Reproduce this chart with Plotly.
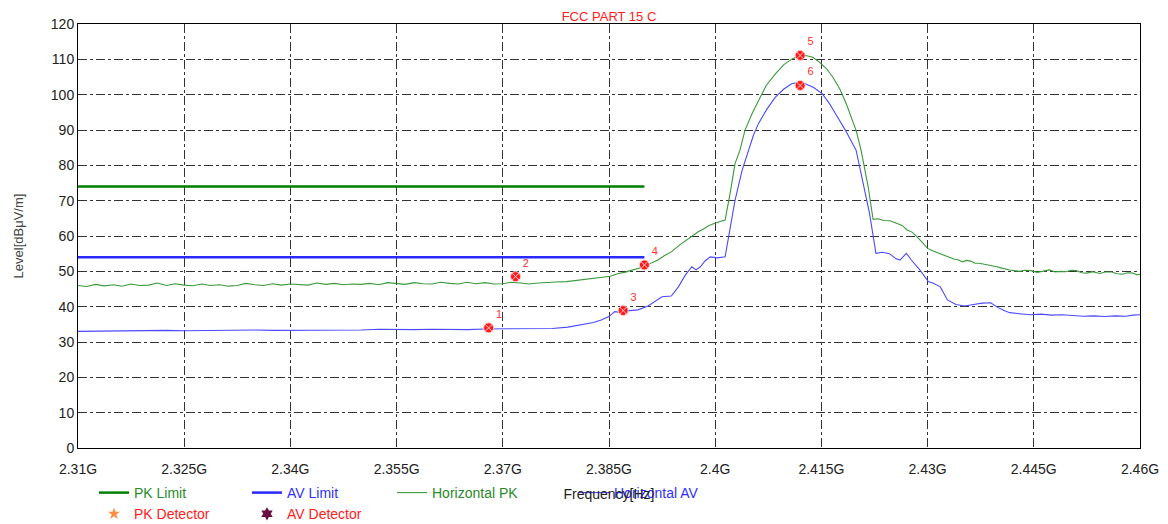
import plotly.graph_objects as go

# ---------------- data ----------------
title_text = "FCC PART 15 C"

x_tick_vals = [2.31, 2.325, 2.34, 2.355, 2.37, 2.385, 2.4, 2.415, 2.43, 2.445, 2.46]
x_tick_text = ["2.31G", "2.325G", "2.34G", "2.355G", "2.37G", "2.385G", "2.4G",
               "2.415G", "2.43G", "2.445G", "2.46G"]
y_tick_vals = [0, 10, 20, 30, 40, 50, 60, 70, 80, 90, 100, 110, 120]

# Limits (restricted band up to 2.39 GHz)
pk_limit_freq = [2.31, 2.39]
pk_limit_level = [74, 74]
av_limit_freq = [2.31, 2.39]
av_limit_level = [54, 54]

# Horizontal PK trace (GHz, dBuV/m)
pk_freq = [2.3100, 2.3112, 2.3125, 2.3137, 2.3150, 2.3162, 2.3175, 2.3187, 2.3200, 2.3212,
           2.3225, 2.3237, 2.3250, 2.3262, 2.3275, 2.3287, 2.3300, 2.3312, 2.3325, 2.3337,
           2.3350, 2.3362, 2.3375, 2.3387, 2.3400, 2.3412, 2.3425, 2.3437, 2.3450, 2.3462,
           2.3475, 2.3487, 2.3500, 2.3512, 2.3525, 2.3537, 2.3550, 2.3562, 2.3575, 2.3587,
           2.3600, 2.3612, 2.3625, 2.3637, 2.3650, 2.3662, 2.3675, 2.3687, 2.3700, 2.3712,
           2.3725, 2.3737, 2.3750, 2.3762, 2.3775, 2.3790, 2.3805, 2.3816, 2.3828, 2.3840,
           2.3852, 2.3863, 2.3872, 2.3880, 2.3891, 2.3900, 2.3905, 2.3912, 2.3919, 2.3928,
           2.3938, 2.3950, 2.3958, 2.3965, 2.3976, 2.3983, 2.3990, 2.4000, 2.4008, 2.4014,
           2.4021, 2.4028, 2.4035, 2.4042, 2.4052, 2.4061, 2.4072, 2.4085, 2.4097, 2.4109,
           2.4120, 2.4128, 2.4138, 2.4147, 2.4157, 2.4166, 2.4176, 2.4185, 2.4192, 2.4199,
           2.4206, 2.4211, 2.4216, 2.4223, 2.4230, 2.4238, 2.4247, 2.4256, 2.4264, 2.4271,
           2.4278, 2.4285, 2.4292, 2.4300, 2.4306, 2.4312, 2.4318, 2.4324, 2.4330, 2.4337,
           2.4343, 2.4349, 2.4355, 2.4361, 2.4367, 2.4373, 2.4380, 2.4386, 2.4392, 2.4398,
           2.4405, 2.4410, 2.4416, 2.4422, 2.4430, 2.4437, 2.4446, 2.4455, 2.4463, 2.4472,
           2.4480, 2.4488, 2.4495, 2.4503, 2.4510, 2.4518, 2.4525, 2.4533, 2.4543, 2.4551,
           2.4560, 2.4568, 2.4575, 2.4583, 2.4590, 2.4596, 2.4600]
pk_level = [46.0, 45.7, 46.3, 45.9, 46.2, 45.8, 46.4, 46.0, 46.1, 46.7,
            46.0, 46.5, 46.1, 45.9, 46.4, 46.0, 46.2, 45.8, 46.0, 46.6,
            46.2, 46.0, 46.5, 46.1, 46.4, 46.3, 46.1, 46.7, 46.3, 46.6,
            46.2, 46.4, 46.3, 46.6, 46.2, 46.8, 46.5, 46.3, 46.8, 46.5,
            46.4, 46.9, 46.6, 46.4, 46.9, 46.5, 46.8, 46.4, 46.5, 46.9,
            46.7, 46.4, 46.7, 46.9, 47.0, 47.1, 47.5, 47.7, 47.9, 48.4,
            48.6, 49.4, 49.7, 50.2, 50.8, 51.3, 51.9, 52.6, 53.2, 54.4,
            55.5, 57.5, 58.6, 59.6, 61.2, 61.9, 62.8, 63.7, 64.2, 64.5,
            72.0, 80.5, 84.3, 89.9, 94.6, 98.4, 102.6, 105.9, 108.5, 110.2,
            110.9, 111.1, 110.6, 109.2, 107.4, 105.0, 101.6, 97.5, 93.7, 89.9,
            84.3, 79.6, 74.0, 64.7, 64.9, 64.4, 64.3, 63.6, 63.0, 61.7,
            61.1, 59.8, 58.3, 56.5, 55.9, 55.4, 55.0, 54.6, 53.9, 53.5,
            53.3, 52.7, 53.1, 52.9, 52.3, 52.3, 52.0, 51.8, 51.7, 51.3,
            50.9, 50.6, 50.4, 50.2, 50.0, 50.3, 50.2, 49.7, 50.1, 50.4,
            49.8, 50.0, 49.9, 50.3, 50.2, 49.6, 49.5, 49.9, 49.4, 49.8,
            49.8, 49.3, 49.2, 49.6, 49.5, 49.0, 49.2]

# Horizontal AV trace (GHz, dBuV/m)
av_freq = [2.3100, 2.3125, 2.3150, 2.3175, 2.3200, 2.3225, 2.3250, 2.3275, 2.3300, 2.3325,
           2.3350, 2.3375, 2.3400, 2.3425, 2.3450, 2.3475, 2.3500, 2.3525, 2.3550, 2.3575,
           2.3600, 2.3625, 2.3650, 2.3675, 2.3700, 2.3725, 2.3750, 2.3770, 2.3792, 2.3805,
           2.3815, 2.3828, 2.3839, 2.3850, 2.3858, 2.3866, 2.3875, 2.3891, 2.3905, 2.3914,
           2.3925, 2.3938, 2.3948, 2.3958, 2.3967, 2.3973, 2.3979, 2.3986, 2.3993, 2.4003,
           2.4014, 2.4019, 2.4028, 2.4038, 2.4047, 2.4054, 2.4061, 2.4073, 2.4085, 2.4097,
           2.4108, 2.4118, 2.4127, 2.4139, 2.4151, 2.4161, 2.4170, 2.4184, 2.4199, 2.4208,
           2.4218, 2.4227, 2.4236, 2.4246, 2.4255, 2.4261, 2.4270, 2.4277, 2.4289, 2.4301,
           2.4308, 2.4318, 2.4328, 2.4340, 2.4352, 2.4365, 2.4377, 2.4389, 2.4399, 2.4408,
           2.4416, 2.4430, 2.4445, 2.4460, 2.4475, 2.4490, 2.4505, 2.4520, 2.4535, 2.4550,
           2.4565, 2.4580, 2.4590, 2.4600]
av_level = [33.0, 33.1, 33.2, 33.1, 33.2, 33.3, 33.2, 33.3, 33.2, 33.4,
            33.4, 33.3, 33.3, 33.5, 33.5, 33.4, 33.4, 33.6, 33.5, 33.5,
            33.6, 33.5, 33.5, 33.7, 33.7, 33.6, 33.7, 33.8, 34.2, 34.6,
            35.0, 35.5, 36.2, 37.2, 38.6, 38.4, 38.8, 39.1, 40.2, 41.4,
            42.8, 43.0, 45.6, 49.0, 51.3, 50.4, 51.3, 53.0, 54.1, 53.8,
            54.1, 59.8, 70.1, 78.6, 84.3, 88.5, 91.8, 95.9, 99.3, 101.6,
            103.1, 103.5, 103.1, 102.0, 100.3, 97.6, 94.6, 89.9, 84.3, 75.8,
            66.4, 55.1, 55.4, 55.0, 53.6, 53.2, 55.1, 53.2, 50.4, 47.1,
            46.6, 45.6, 41.9, 40.6, 40.2, 40.6, 41.0, 41.1, 39.8, 38.9,
            38.3, 38.0, 37.7, 37.9, 37.6, 37.7, 37.5, 37.3, 37.4, 37.2,
            37.4, 37.3, 37.6, 37.7]

# Markers (detected points)
mark_freq = [2.3680, 2.3718, 2.3870, 2.3900, 2.4120, 2.4120]
mark_level = [34.0, 48.5, 38.9, 51.8, 111.1, 102.6]
mark_label = ["1", "2", "3", "4", "5", "6"]

# ---------------- styling ----------------
FONT = "Liberation Sans, Arial, sans-serif"
GREEN_LIM = "#008000"
BLUE_LIM = "#2828ff"
GREEN_TR = "#3a9a3a"
BLUE_TR = "#4a4aff"

# The page body adds an 8 px offset; figure coordinates below account for it.
OFF = 8
W, H = 1168 - OFF, 524 - OFF
PLOT_L, PLOT_R, PLOT_T, PLOT_B = 78 - OFF, 1140 - OFF, 24 - OFF, 448 - OFF


def colored(text, color):
    return f"<span style='color:{color}'>{text}</span>"


fig = go.Figure()

fig.add_trace(go.Scatter(x=pk_limit_freq, y=pk_limit_level, mode="lines",
                         line=dict(color=GREEN_LIM, width=2.5),
                         name=colored("PK Limit", "#2a8a2a"), legend="legend"))
fig.add_trace(go.Scatter(x=[None], y=[None], mode="markers",
                         marker=dict(symbol="star", color="#ff8c40", size=9),
                         name=colored("PK Detector", "#ff2020"), legend="legend"))
fig.add_trace(go.Scatter(x=av_limit_freq, y=av_limit_level, mode="lines",
                         line=dict(color=BLUE_LIM, width=2.5),
                         name=colored("AV Limit", "#3030ff"), legend="legend2"))
fig.add_trace(go.Scatter(x=[None], y=[None], mode="markers",
                         marker=dict(symbol="hexagram", color="#6a1040", size=10),
                         name=colored("AV Detector", "#ff2020"), legend="legend2"))
fig.add_trace(go.Scatter(x=pk_freq, y=pk_level, mode="lines",
                         line=dict(color=GREEN_TR, width=1.1),
                         name=colored("Horizontal PK", "#2a8a2a"), legend="legend3"))
fig.add_trace(go.Scatter(x=av_freq, y=av_level, mode="lines",
                         line=dict(color=BLUE_TR, width=1.1),
                         name=colored("Horizontal AV", "#3030ff"), legend="legend4"))
fig.add_trace(go.Scatter(x=mark_freq, y=mark_level, mode="markers+text",
                         text=mark_label, textposition="top right",
                         textfont=dict(color="#ff3030", size=11, family=FONT),
                         marker=dict(symbol="circle-x", color="#ff1a1a", size=10,
                                     line=dict(color="#ffd0d0", width=1)),
                         showlegend=False, hoverinfo="skip"))

grid = dict(showgrid=True, gridcolor="#333333", griddash="dashdot", gridwidth=1)

fig.update_layout(
    width=W, height=H,
    margin=dict(l=PLOT_L, r=W - PLOT_R, t=PLOT_T, b=H - PLOT_B, autoexpand=False),
    paper_bgcolor="white", plot_bgcolor="white",
    font=dict(family=FONT, size=14, color="#222222"),
    title=dict(text=title_text, x=(PLOT_L + PLOT_R) / 2 / W, xanchor="center",
               y=1 - 8 / H, yanchor="middle",
               font=dict(color="#ff2020", size=13, family=FONT)),
    xaxis=dict(range=[2.31, 2.46], tickvals=x_tick_vals, ticktext=x_tick_text,
               showline=True, linecolor="black", linewidth=1, mirror=True,
               ticks="", zeroline=False, ticklabelstandoff=8,
               title=dict(text="Frequency[Hz]", standoff=13,
                          font=dict(size=14, color="#222222")),
               tickfont=dict(size=14, color="#222222"), **grid),
    yaxis=dict(range=[0, 120], tickvals=y_tick_vals,
               showline=True, linecolor="black", linewidth=1, mirror=True,
               ticks="", zeroline=False,
               title=dict(text="Level[dBμV/m]", standoff=24,
                          font=dict(size=13, color="#444444")),
               tickfont=dict(size=14, color="#222222"), **grid),
    showlegend=True,
)

leg_common = dict(orientation="v", yanchor="top", xanchor="left",
                  bgcolor="rgba(0,0,0,0)", borderwidth=0,
                  font=dict(size=14, family=FONT), tracegroupgap=0,
                  itemwidth=30)
px_w = PLOT_R - PLOT_L
px_h = PLOT_B - PLOT_T
leg_y = -(469 - PLOT_B) / px_h


def leg_x(fig_px):
    return (fig_px - PLOT_L) / px_w


fig.update_layout(
    legend=dict(x=leg_x(86), y=leg_y, **leg_common),
    legend2=dict(x=leg_x(239), y=leg_y, **leg_common),
    legend3=dict(x=leg_x(384), y=leg_y, **leg_common),
    legend4=dict(x=leg_x(566), y=leg_y, **leg_common),
)

fig.write_html("out.html")
